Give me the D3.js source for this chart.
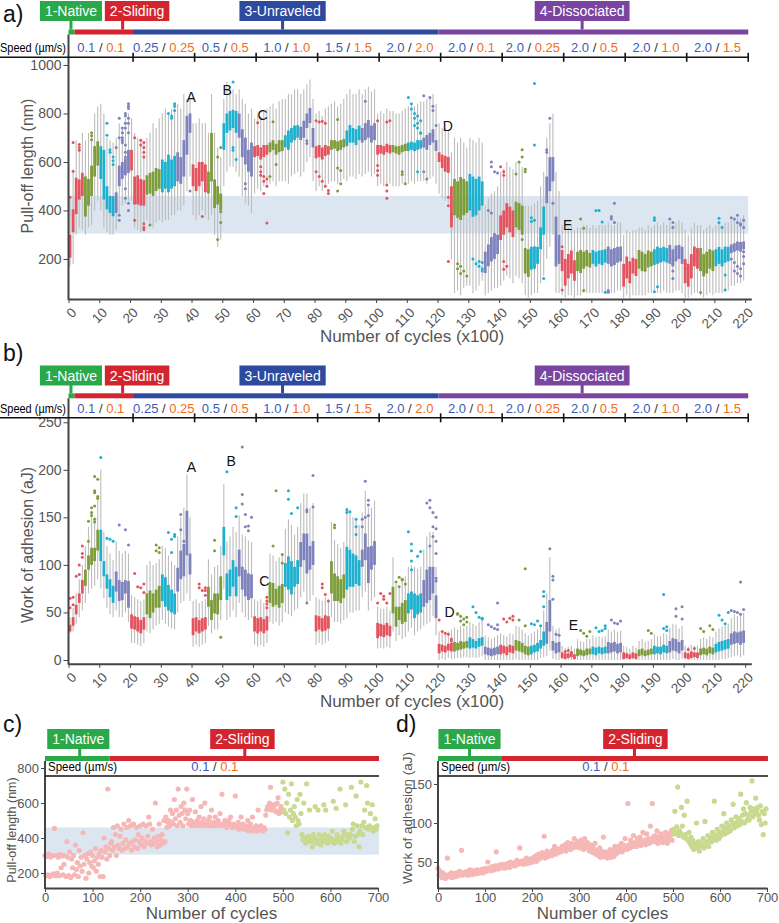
<!DOCTYPE html>
<html lang="en">
<head>
<meta charset="utf-8">
<title>Pull-off length and work of adhesion</title>
<script src="https://cdn.jsdelivr.net/npm/d3@7"></script>
<style>
  body { margin: 0; background: #fff; }
  text { font-family: "Liberation Sans", Arial, Helvetica, sans-serif; }
</style>
</head>
<body>
<div id="chart"></div>
<script>
// ---------- data ----------
const phaseNames = ['1-Native', '2-Sliding', '3-Unraveled', '4-Dissociated'];
const phaseSpans = [[0, 2], [2, 21], [21, 120.3], [120.3, 221]];   // x100 cycles
const speedBreaks = [0, 21, 41, 61, 81, 101, 121, 141, 161, 181, 201, 221];
const speedLabels = [['0.1', '0.1'], ['0.25', '0.25'], ['0.5', '0.5'], ['1.0', '1.0'], ['1.5', '1.5'], ['2.0', '2.0'],
  ['2.0', '0.1'], ['2.0', '0.25'], ['2.0', '0.5'], ['2.0', '1.0'], ['2.0', '1.5']];
const cycleTicks = d3.range(0, 221, 10);
const blueBand = [305, 460];

// a) pull-off length boxes (nm), one per 100 cycles
const aQ1 = [205,310,385,445,460,375,420,460,540,585, 530,445,405,390,376,390,500,530,545,555,
  565,430,425,420,420,465,470,460,480,490, 475,490,475,490,500,520,510,540,630,720,
  500,480,500,520,475,470,520,410,425,400, 650,720,730,740,720,700,620,590,560,540,
  620,625,610,620,630,640,650,630,640,645, 660,650,680,690,700,690,700,740,760,660,
  615,620,610,625,630,650,655,645,650,660, 665,680,680,670,690,680,690,700,680,690,
  630,635,630,640,635,640,635,630,640,645, 645,650,645,650,655,660,650,670,680,645,
  600,575,560,555,330,380,370,361,380,390, 400,374,380,400,420,142,170,190,200,220,
  278,300,330,310,290,330,320,300,140,126, 156,160,180,240,300,430,480,520,169,180,
  150,90,120,140,110,150,142,160,170,165, 180,169,180,175,185,180,169,175,185,190,
  86,120,100,140,130,160,150,148,165,170, 176,180,185,190,185,180,169,190,200,180,
  100,86,120,170,160,150,128,140,160,150, 170,180,169,185,190,224,230,235,230,240];
const aQ3 = [300,405,535,528,555,540,530,585,665,685, 665,650,500,460,459,475,585,600,615,650,
  650,540,545,530,525,545,555,560,575,570, 610,600,630,610,625,640,620,690,790,800,
  590,575,600,600,590,560,720,528,500,470, 760,800,810,815,810,800,735,700,650,680,
  665,670,660,670,670,680,690,675,690,690, 710,730,740,750,752,745,770,800,823,740,
  665,670,660,670,665,690,690,685,690,695, 730,752,740,735,750,740,760,773,750,760,
  670,670,665,675,670,670,665,665,670,675, 680,684,680,690,690,700,711,720,735,690,
  640,630,625,620,500,530,520,538,530,520, 551,540,530,540,520,230,260,290,307,300,
  380,400,430,416,400,436,430,420,245,240, 250,252,250,330,416,540,620,620,375,300,
  237,200,220,235,195,230,237,230,237,225, 237,230,235,237,240,251,240,245,250,251,
  180,210,190,205,200,237,230,220,235,230, 240,251,245,250,245,258,240,255,258,250,
  200,180,220,251,245,245,220,230,240,235, 240,250,240,251,250,260,265,272,270,272];
const aLo = [170,180,300,330,320,300,330,340,400,440, 400,330,310,300,300,320,380,420,430,440,
  440,330,320,310,310,360,340,330,350,360, 350,360,360,380,380,400,400,420,480,540,
  380,360,380,400,380,360,380,300,250,280, 500,560,580,580,560,540,460,430,420,390,
  470,490,480,500,500,510,520,500,520,520, 520,510,540,550,560,540,560,600,620,520,
  480,500,480,500,510,520,520,510,520,530, 520,540,540,530,550,540,550,560,540,550,
  500,510,500,510,510,500,500,500,510,510, 510,520,510,520,520,520,510,530,540,510,
  470,450,440,430,200,60,70,50,80,90, 90,60,70,90,110,50,60,70,80,80,
  90,110,130,120,100,130,120,100,50,40, 50,60,60,100,130,200,250,300,60,60,
  50,40,50,50,40,50,50,60,60,60, 60,60,60,60,70,70,60,60,70,70,
  40,50,40,50,50,50,50,50,60,60, 60,60,60,70,60,60,60,70,70,60,
  40,40,50,60,60,50,40,50,60,50, 60,60,60,70,70,90,90,100,100,110];
const aHi = [460,560,690,660,720,690,720,720,800,830, 840,800,700,690,680,700,760,740,780,800,
  780,720,700,690,680,700,720,760,740,780, 800,820,800,820,840,840,820,880,860,860,
  760,760,780,760,760,720,880,720,660,620, 860,930,900,900,880,900,860,840,800,820,
  780,800,790,810,820,830,840,820,850,860, 860,880,880,900,900,880,900,920,940,860,
  800,810,790,820,830,840,850,830,840,860, 880,900,880,880,900,880,900,910,890,900,
  800,810,800,820,810,810,800,800,810,820, 830,840,830,840,850,850,860,870,880,840,
  760,740,740,730,640,700,680,700,680,660, 700,690,680,700,680,420,450,470,480,500,
  560,570,600,580,570,600,600,580,420,420, 420,430,440,500,560,700,760,800,560,480,
  340,320,330,340,320,330,330,340,340,330, 340,330,340,340,340,350,340,340,350,350,
  300,320,310,320,320,330,330,320,340,330, 340,350,340,350,340,350,340,350,360,350,
  320,300,330,350,340,340,320,330,340,330, 340,350,340,350,350,360,370,370,370,380];
const aOutliers = [[0.5,455],[1.5,680],[1.5,562],[3.5,672],[3.5,660],[3.5,648],
  [7.5,720],[7.5,708],[7.5,692],
  [12.5,760],[12.5,710],[13.5,650],[14.5,620],[14.5,605],[14.5,590],[13.5,640],
  [15.5,660],[16.5,780],[17.5,720],[17.5,700],[17.5,680],[18.5,760],[18.5,800],[19.5,830],[19.5,820],[19.5,840],
  [19.5,780],[19.5,760],[18.5,740],[17.5,690],[16.5,700],[18.5,640],[18.5,620],[17.5,560],[16.5,380],[16.5,360],
  [18.5,450],[19.5,430],[19.5,400],[18.5,490],[18.5,670],[19.5,720],[17.5,740],[18.5,790],
  [21.5,700],[21.5,430],[21.5,360],[23.5,690],[23.5,670],[24.5,680],[24.5,660],[24.5,640],[24.5,620],[24.5,345],[24.5,330],[24.5,322],
  [26.5,340],[32.5,800],[33.5,790],[33.5,780],[34.5,840],[34.5,830],[34.5,812],[39.5,480],[43.5,375],
  [48.5,280],[48.5,620],[49.5,440],[49.5,452],[49.5,395],[49.5,350],[49.5,660],
  [53.5,930],[53.5,660],[53.5,648],[54.5,610],[57.5,510],[57.5,490],
  [61.5,762],[62.5,580],[62.5,560],[63.5,540],[63.5,520],[64.5,500],[63.5,470],[64.5,530],[64.5,348],[62.5,545],
  [66.5,766],[65.5,540],[67.5,590],[77.5,687],[77.5,676],
  [80.5,770],[81.5,765],[82.5,768],[83.5,760],[80.5,560],[81.5,540],[82.5,520],[83.5,500],[84.5,470],[84.5,482],
  [87.5,775],[87.5,575],[88.5,565],[88.5,510],[87.5,480],[96.5,850],
  [100.5,770],[103.5,765],[104.5,770],[100.5,585],[100.5,565],[100.5,545],[103.5,505],[103.5,480],[103.5,450],
  [108.5,560],[108.5,548],[109.5,510],
  [110.5,866],[111.5,840],[111.5,818],[112.5,800],[112.5,780],[113.5,760],[113.5,740],[114.5,720],[114.5,718],[112.5,750],[113.5,790],[114.5,770],[113.5,560],
  [115.5,873],[117.5,866],[118.5,830],[118.5,812],[119.5,750],[115.5,560],[116.5,530],
  [123.5,455],[123.5,420],[124.5,385],[124.5,370],[123.5,190],
  [126.5,180],[126.5,160],[127.5,170],[128.5,150],[129.5,130],[127.5,140],
  [131.5,200],[132.5,180],[133.5,170],[133.5,190],[134.5,160],[134.5,185],[134.5,150],
  [137.5,600],[137.5,580],[138.5,560],[139.5,555],[136.5,400],[137.5,390],
  [140.5,580],[141.5,560],[141.5,545],[141.5,190],[142.5,170],[141.5,158],
  [147.5,620],[148.5,560],[148.5,570],[147.5,280],[147.5,650],[145.5,550],[146.5,600],
  [151.5,924],[151.5,670],[150.5,370],[151.5,360],[150.5,355],[154.5,120],
  [156.5,780],[155.5,650],[155.5,640],[157.5,430],[160.5,250],[160.5,72],
  [166.5,365],[167.5,327],[167.5,70],[171.5,400],[172.5,400],[173.5,352],[174.5,63],
  [176.5,375],[176.5,365],[175.5,70],[175.5,63],[177.5,430],[177.5,350],
  [190.5,370],[190.5,360],[191.5,85],[190.5,65],
  [195.5,365],[196.5,350],[196.5,330],[196.5,200],[196.5,180],[196.5,150],[196.5,120],
  [200.5,180],[200.5,160],[205.5,62],
  [211.5,368],[211.5,350],[212.5,330],[212.5,190],[213.5,134],[213.5,72],
  [215.5,370],[216.5,365],[217.5,380],[217.5,350],[218.5,340],[219.5,360],[219.5,330],[218.5,345],[215.5,200],
  [216.5,185],[217.5,170],[218.5,160],[219.5,180],[216.5,150],[218.5,130],[219.5,210],[219.5,230],[217.5,140]];
const aNotes = [['A', 39.9, 868], ['B', 51.6, 897], ['C', 63.1, 794], ['D', 123.3, 748], ['E', 162.3, 340]];

// b) work of adhesion boxes (aJ)
const bQ1 = [30,36,48,60,70,78,95,100,104,115, 104,88,75,66,60,72,62,63,70,55,
  33,32,30,28,32,48,44,50,55,55, 62,56,52,50,48,72,85,88,110,90,
  26,30,28,30,32,56,42,49,48,63, 110,63,67,77,67,88,74,67,63,65,
  30,28,30,28,31,60,56,58,55,60, 77,74,69,77,80,98,105,91,95,100,
  30,32,30,31,33,70,62,62,60,65, 74,77,77,80,78,98,105,81,95,100,
  23,25,24,26,25,49,35,42,38,40, 49,53,44,48,50,56,60,63,70,44,
  7,9,8,10,9,9,10,11,12,13, 12,13,12,14,15,6,5,4,5,6,
  6,7,5,8,7,10,9,8,6,5, 6,8,9,12,15,17,30,10,7,8,
  2,1,2,3,1,4,5,4,5,6, 6,5,7,6,7,7,8,9,7,8,
  1,2,1,2,1,4,5,4,5,6, 6,7,6,8,7,8,10,9,7,10,
  2,1,2,3,2,5,6,5,7,6, 8,9,10,11,12,16,17,18,16,18];
const bQ3 = [37,45,58,70,84,95,110,118,118,137, 137,104,90,85,78,93,84,82,84,83,
  48,46,45,42,45,70,73,70,74,78, 90,87,79,74,70,97,115,122,157,112,
  44,45,42,44,45,77,63,70,70,88, 140,91,95,105,98,116,98,95,91,90,
  46,44,45,43,46,82,81,75,78,80, 102,109,104,98,105,124,133,133,120,125,
  47,46,44,47,46,104,91,88,85,90, 119,116,112,110,105,116,133,119,120,125,
  39,38,37,39,36,77,56,56,60,63, 70,72,70,68,70,84,95,98,98,68,
  17,16,15,17,18,19,18,20,19,20, 24,22,20,23,24,14,13,12,13,14,
  16,15,14,16,15,21,20,18,15,14, 15,16,18,21,30,40,63,20,18,19,
  8,7,7,8,6,12,11,10,12,12, 14,13,14,13,14,19,18,19,17,18,
  8,7,6,8,7,11,12,10,11,12, 15,14,14,16,15,20,23,22,19,21,
  8,7,9,8,8,12,13,12,14,13, 17,19,20,21,22,28,30,29,30,31];
const bLo = [28,30,38,45,52,60,70,75,78,85, 75,65,55,48,45,52,45,45,50,40,
  18,18,16,15,18,30,28,32,36,38, 42,38,35,33,32,50,60,62,70,62,
  14,16,14,16,18,36,28,32,32,42, 75,42,45,52,45,60,50,45,42,44,
  16,14,16,14,18,40,38,40,36,40, 50,48,46,52,54,66,72,60,62,68,
  16,18,16,18,20,45,40,40,38,42, 44,50,50,52,52,66,72,52,62,66,
  12,13,12,14,13,30,20,26,22,24, 30,34,26,30,32,36,38,40,46,26,
  0,1,0,2,1,1,2,2,3,3, 2,3,2,3,4,0,0,0,0,0,
  0,0,0,0,0,1,0,0,0,0, 0,0,0,2,3,4,10,1,0,0,
  0,0,0,0,0,0,0,0,0,0, 0,0,0,0,0,0,0,0,0,0,
  0,0,0,0,0,0,0,0,0,0, 0,0,0,0,0,0,1,0,0,1,
  0,0,0,0,0,0,0,0,0,0, 0,0,1,1,2,3,4,5,3,5];
const bHi = [45,55,70,85,100,120,140,150,150,170, 200,135,120,112,105,125,115,112,115,112,
  68,66,64,62,64,100,104,100,102,106, 120,118,110,104,100,130,150,160,195,150,
  62,64,60,62,64,106,90,98,100,120, 185,125,130,140,135,152,132,130,126,124,
  64,62,64,60,64,112,110,104,108,110, 138,148,142,132,140,165,175,175,160,165,
  66,64,62,66,64,145,126,122,118,124, 160,155,150,148,142,155,178,160,160,168,
  56,54,54,56,52,108,80,78,84,88, 98,100,98,96,98,116,130,135,135,98,
  30,28,27,30,32,34,32,36,34,36, 40,38,36,40,42,26,24,22,24,26,
  28,26,25,28,27,36,35,32,28,26, 28,30,32,36,52,70,108,36,32,34,
  15,13,14,15,12,22,20,19,22,22, 26,24,25,24,25,32,30,32,30,31,
  15,14,12,15,13,20,22,19,20,22, 27,25,25,28,27,34,38,37,33,36,
  15,14,16,15,15,22,24,22,25,24, 30,33,35,36,38,44,48,46,48,50];
const bOutliers = [[0.5,65],[0.5,55],[1.5,66],[1.5,58],[2.5,88],[3.5,90],[3.5,100],[4.5,108],[4.5,112],[4.5,120],
  [6.5,146],[6.5,125],[7.5,155],[7.5,152],[8.5,193],[8.5,178],[8.5,176],[9.5,190],[9.5,172],[9.5,170],[7.5,160],[8.5,162],[8.5,148],[8.5,145],
  [10.5,213],[12.5,128],[13.5,127],[14.5,125],[16.5,142],[18.5,137],[19.5,121],
  [21.5,91],[22.5,77],[24.5,80],[24.5,71],[23.5,76],[28.5,121],[29.5,113],[29.5,118],[28.5,115],
  [32.5,134],[33.5,113],[34.5,132],[34.5,130],[33.5,127],[36.5,153],[36.5,137],[37.5,125],
  [42.5,80],[42.5,76],[43.5,73],[44.5,68],[44.5,76],[44.5,73],[47.5,126],[47.5,115],[49.5,24],
  [51.5,198],[54.5,160],[54.5,151],[56.5,224],[56.5,174],[56.5,164],[57.5,153],[58.5,141],[58.5,136],[59.5,150],[57.5,140],
  [64.5,66],[64.5,62],[64.5,59],[64.5,55],[66.5,120],[67.5,178],[69.5,111],[69.5,102],
  [71.5,178],[71.5,169],[72.5,154],[74.5,160],[77.5,158],[77.5,156],[79.5,161],[79.5,194],[77.5,60],
  [82.5,80],[82.5,76],[83.5,69],[84.5,62],[86.5,142],[86.5,139],
  [90.5,158],[90.5,155],[91.5,156],[93.5,148],[93.5,140],[93.5,132],
  [96.5,188],[97.5,168],[97.5,163],[97.5,152],[96.5,150],[95.5,148],[95.5,140],
  [101.5,70],[102.5,64],[103.5,60],[104.5,70],[102.5,67],[100.5,60],
  [106.5,82],[107.5,77],[108.5,84],[109.5,80],[107.5,87],[108.5,85],
  [110.5,135],[111.5,122],[111.5,115],[113.5,109],[114.5,114],[111.5,104],[111.5,95],
  [116.5,165],[117.5,168],[117.5,160],[118.5,155],[118.5,140],[119.5,150],[119.5,138],[119.5,125],[118.5,130],[119.5,112],[117.5,120],[119.5,86],[119.5,83],
  [120.5,42],[121.5,30],[122.5,28],[123.5,27],[124.5,22],[124.5,20],
  [126.5,49],[127.5,46],[128.5,43],[129.5,40],[129.5,45],[128.5,37],[127.5,41],[126.5,48],
  [131.5,56],[132.5,50],[133.5,45],[134.5,44],[134.5,43],
  [136.5,37],[137.5,35],[138.5,33],[139.5,32],[139.5,37],[139.5,60],
  [141.5,43],[142.5,40],[143.5,44],[144.5,42],[144.5,46],[146.5,42],[148.5,96],[148.5,36],
  [150.5,38],[151.5,37],[152.5,41],[153.5,36],[154.5,72],[154.5,67],[154.5,56],
  [156.5,117],[157.5,88],[157.5,84],[157.5,64],[158.5,27],[159.5,26],
  [161.5,9],[162.5,10],[163.5,8],[166.5,31],[167.5,28],[168.5,25],[169.5,30],
  [171.5,34],[172.5,30],[173.5,31],[174.5,36],[174.5,33],[176.5,42],[177.5,39],[178.5,38],[179.5,41],
  [188.5,31],[189.5,28],[193.5,69],[193.5,33],[194.5,31],[194.5,35],
  [197.5,54],[197.5,46],[199.5,43],[199.5,56],[201.5,11],[203.5,12],
  [205.5,33],[206.5,30],[208.5,36],[209.5,32],[211.5,47],[212.5,42],[213.5,38],[214.5,50],
  [218.5,82],[215.5,52],[216.5,51],[217.5,50],[218.5,48],[219.5,53]];
const bNotes = [['A', 40, 203], ['B', 52.9, 209], ['C', 63.7, 83], ['D', 123.9, 50.5], ['E', 164.2, 37]];

// c) pull-off length (nm), one value every 2 cycles
const cPull = [300,185,295,190,310,180,292,188,300,195, 455,185,300,200,290,185,305,230,298,190,
  250,300,180,380,290,185,320,175,280,230, 300,190,360,220,260,180,330,240,290,210,
  430,250,300,170,280,310,200,260,320,240, 300,230,270,340,210,290,250,310,180,330,
  290,180,400,320,350,280,680,340,300,370, 380,330,460,350,420,300,470,360,340,410,
  450,330,370,480,340,390,460,350,500,370, 470,330,380,480,350,390,460,340,420,380,
  470,360,400,480,350,380,470,370,410,520, 480,380,360,450,370,400,600,380,350,410,
  480,360,390,420,370,500,380,520,460,490, 500,470,560,490,540,480,620,510,560,470,
  680,530,490,580,540,470,600,560,510,680, 540,480,560,500,470,620,490,480,550,470,
  500,480,520,470,580,490,470,510,600,480, 480,470,500,520,470,560,480,490,470,520,
  470,490,500,480,540,470,650,480,470,500, 480,460,470,500,480,520,470,460,480,470,
  640,470,460,490,450,470,520,460,480,450, 460,470,450,500,440,460,480,450,520,440,
  460,450,470,440,560,450,460,470,450,440, 460,450,530,560,580,570,600,690,560,590,
  580,560,590,550,600,630,540,560,580,550, 720,560,680,540,600,430,650,520,560,710,
  500,540,580,520,470,620,500,480,650,540, 420,390,600,400,370,710,380,410,560,390,
  380,350,420,400,580,370,390,560,420,380, 360,400,380,590,420,560,390,370,410,380,
  380,400,440,610,370,390,570,420,400,380, 680,370,390,410,440,420,590,380,420,400,
  400,420,690,450,480,380,410,640,470,420, 350,440,720,470,420,490,560,460,700,600,
  450,470,540,460,590,440,460,510,450,470];
// d) work of adhesion (aJ), one value every 2 cycles
const dWork = [42,33,38,35,30,36,32,34,29,33, 55,31,34,32,36,30,33,35,31,34,
  36,32,34,38,35,65,33,36,34,37, 35,38,33,36,40,35,37,34,39,36,
  38,35,40,37,36,39,38,41,36,40, 39,42,38,50,41,40,43,39,44,42,
  40,45,63,43,41,46,42,44,47,43, 45,42,47,44,48,46,43,50,45,47,
  46,49,45,48,52,47,50,68,48,51, 49,47,52,50,55,48,53,51,49,54,
  52,50,56,53,58,51,55,60,54,57, 56,62,58,83,55,60,64,57,62,59,
  61,58,65,63,70,60,64,67,62,66, 65,63,70,66,68,72,64,69,75,67,
  70,66,74,68,72,80,69,73,76,70, 72,68,78,70,74,66,80,71,69,75,
  68,64,72,66,70,62,67,74,60,65, 62,58,68,56,64,60,82,57,63,59,
  55,62,58,66,56,60,64,57,70,60, 66,62,70,64,68,74,63,72,67,80,
  70,66,125,72,68,78,74,70,84,72, 75,70,80,73,77,82,71,76,88,74,
  78,72,86,76,80,74,96,78,125,82, 76,84,79,90,74,82,78,86,80,75,
  82,77,88,80,74,85,79,84,90,78, 92,86,115,88,95,146,84,90,87,120,
  96,82,110,85,80,128,78,88,74,82, 70,78,66,74,72,100,68,76,64,72,
  74,70,80,68,102,76,72,84,70,78, 82,76,88,80,128,84,78,92,86,80,
  88,84,96,90,112,86,94,100,88,92, 96,90,104,98,124,94,100,108,96,102,
  106,98,137,102,110,118,100,112,126,104, 110,104,120,114,154,108,118,112,132,116,
  120,110,104,122,98,115,85,112,100,118];
const cdPhaseNames = ['1-Native', '2-Sliding'];
const cdPhaseSpans = [[0, 136], [136, 702]];
const cdTicks = d3.range(0, 701, 100);

// ---------- style ----------
const boxColors = ['#e4535e', '#7d9c3a', '#1eb1cf', '#7e82bd'];
const phaseColors = ['#2aa84a', '#d4252e', '#2d4a9f', '#7a45a0'];
const speedBlue = '#3b5cb8', speedOrange = '#f26c22';
const bandColor = '#dce6f1';
const axisColor = '#444', tickText = '#555';

const svg = d3.select('#chart').append('svg').attr('width', 779).attr('height', 923);

function letter(txt, x, y) {
  svg.append('text').attr('x', x).attr('y', y).attr('font-size', 23).attr('fill', '#111').text(txt);
}

// phase bar with labelled boxes, plus the speed row
function header(o) {
  const g = svg.append('g');
  o.spans.forEach((s, i) => {
    g.append('rect').attr('x', o.x(s[0])).attr('y', o.barY)
      .attr('width', o.x(s[1]) - o.x(s[0])).attr('height', 5).attr('fill', phaseColors[i]);
  });
  o.names.forEach((name, i) => {
    const cx = o.x(o.boxAt[i]), sx = o.x(o.stemAt[i]);
    const t = g.append('text').attr('x', cx).attr('y', o.boxTop + 15).attr('text-anchor', 'middle')
      .attr('font-size', 14).attr('fill', '#fff').text(name);
    const w = t.node().getComputedTextLength() + 10;
    g.insert('rect', 'text').attr('x', cx - w / 2).attr('y', o.boxTop).attr('width', w).attr('height', 20)
      .attr('fill', phaseColors[i]);
    g.append('rect').attr('x', sx - 1.5).attr('y', o.boxTop + 19).attr('width', 3)
      .attr('height', o.barY - o.boxTop - 19).attr('fill', phaseColors[i]);
  });
  g.append('text').attr('x', o.speedX).attr('y', o.lineY - 5).attr('font-size', 12)
    .attr('textLength', o.speedW).attr('lengthAdjust', 'spacingAndGlyphs').attr('fill', '#000')
    .text('Speed (µm/s)');
  g.append('line').attr('x1', o.lineX0).attr('x2', o.lineX1).attr('y1', o.lineY).attr('y2', o.lineY)
    .attr('stroke', '#111').attr('stroke-width', 1.6);
  (o.ticks || []).forEach(u => {
    g.append('line').attr('x1', o.x(u)).attr('x2', o.x(u)).attr('y1', o.lineY - 4.5).attr('y2', o.lineY + 4.5)
      .attr('stroke', '#111').attr('stroke-width', 1.6);
  });
  o.labels.forEach(l => {
    const t = g.append('text').attr('x', o.x(l.at)).attr('y', o.lineY - 5).attr('text-anchor', 'middle')
      .attr('font-size', 13);
    t.append('tspan').attr('fill', speedBlue).text(l.pair[0]);
    t.append('tspan').attr('fill', '#333').text(' / ');
    t.append('tspan').attr('fill', speedOrange).text(l.pair[1]);
  });
}

const xBox = d3.scaleLinear().domain([0, 222]).range([68.5, 751.3]);

function boxPanel(o) {
  const x = xBox;
  const y = d3.scaleLinear().domain(o.yDomain).range(o.yRange);
  const g = svg.append('g');
  letter(o.letter, 3, o.letterY);
  header({
    x, spans: phaseSpans, names: phaseNames, boxAt: [0.8, 22.3, 69.6, 167], stemAt: [0.8, 17.6, 69.6, 167],
    boxTop: o.boxTop, barY: o.barY, lineY: o.lineY, speedX: 0, speedW: 66, lineX0: 0, lineX1: x(221),
    ticks: speedBreaks.slice(1),
    labels: speedLabels.map((p, i) => ({ pair: p, at: (speedBreaks[i] + speedBreaks[i + 1]) / 2 }))
  });
  if (o.band) {
    g.append('rect').attr('x', x(0)).attr('width', x(221) - x(0))
      .attr('y', y(o.band[1])).attr('height', y(o.band[0]) - y(o.band[1])).attr('fill', bandColor);
  }
  const rows = o.q1.map((q, i) => ({ i, q1: q, q3: o.q3[i], lo: o.lo[i], hi: o.hi[i] }));
  g.append('g').selectAll('line').data(rows).join('line')
    .attr('x1', d => x(d.i + 0.5)).attr('x2', d => x(d.i + 0.5))
    .attr('y1', d => y(d.lo)).attr('y2', d => y(d.hi))
    .attr('stroke', '#bcbcbc').attr('stroke-width', 1.1);
  g.append('g').selectAll('rect').data(rows).join('rect')
    .attr('x', d => x(d.i + 0.5) - 1.4).attr('width', 2.8)
    .attr('y', d => y(d.q3)).attr('height', d => y(d.q1) - y(d.q3))
    .attr('fill', d => boxColors[Math.floor(d.i / 5) % 4]);
  g.append('g').selectAll('circle').data(o.out).join('circle')
    .attr('cx', d => x(d[0])).attr('cy', d => y(d[1])).attr('r', 1.5)
    .attr('fill', d => boxColors[Math.floor(d[0] / 5) % 4]);
  g.append('g').selectAll('text').data(o.notes).join('text')
    .attr('x', d => x(d[1])).attr('y', d => y(d[2])).attr('dy', '0.35em').attr('text-anchor', 'middle')
    .attr('font-size', 14).attr('fill', '#111').text(d => d[0]);

  // y axis
  const ya = g.append('g').attr('transform', `translate(${x(0)},0)`)
    .call(d3.axisLeft(y).tickValues(o.yTicks).tickSize(5).tickPadding(2).tickFormat(d3.format('d')));
  ya.select('.domain').remove();
  ya.selectAll('line').attr('stroke', axisColor);
  ya.selectAll('text').attr('font-size', 14).attr('fill', tickText);
  g.append('line').attr('x1', x(0)).attr('x2', x(0)).attr('y1', o.barY + 5).attr('y2', o.yRange[0] + 1)
    .attr('stroke', axisColor).attr('stroke-width', 2);
  // x axis
  const xa = g.append('g').attr('transform', `translate(0,${o.yRange[0]})`)
    .call(d3.axisBottom(x).tickValues(cycleTicks).tickSize(4).tickSizeOuter(0).tickFormat(d3.format('d')));
  xa.select('.domain').attr('stroke', axisColor).attr('stroke-width', 2);
  xa.selectAll('line').attr('stroke', axisColor);
  xa.selectAll('text').attr('font-size', 13.5).attr('fill', tickText)
    .attr('x', 0).attr('y', 0).attr('dy', '0.35em').attr('text-anchor', 'end')
    .attr('transform', 'translate(5,11) rotate(-45)');
  g.append('text').attr('x', 412).attr('y', o.yRange[0] + 43).attr('text-anchor', 'middle')
    .attr('font-size', 17).attr('fill', tickText).text('Number of cycles (x100)');
  g.append('text').attr('transform', `translate(33,${o.titleY}) rotate(-90)`).attr('text-anchor', 'middle')
    .attr('font-size', 16).attr('fill', tickText).text(o.title);
}

function scatterPanel(o) {
  const x = d3.scaleLinear().domain([0, 700]).range(o.xRange);
  const y = d3.scaleLinear().domain(o.yDomain).range(o.yRange);
  const g = svg.append('g');
  const bottom = 888;
  letter(o.letter, o.xRange[0] - 42, 732);
  header({
    x, spans: cdPhaseSpans, names: cdPhaseNames, boxAt: o.boxAt, stemAt: o.stemAt,
    boxTop: 729, barY: 756, lineY: 776, speedX: x(0) + 3, speedW: 69, lineX0: x(0), lineX1: x(702),
    ticks: [], labels: [{ pair: ['0.1', '0.1'], at: 357 }]
  });
  if (o.band) {
    g.append('rect').attr('x', x(0)).attr('width', x(702) - x(0))
      .attr('y', y(o.band[1])).attr('height', y(o.band[0]) - y(o.band[1])).attr('fill', bandColor);
  }
  g.append('g').selectAll('circle').data(o.vals.map((v, i) => ({ c: i * 2, v }))).join('circle')
    .attr('cx', d => x(d.c)).attr('cy', d => y(d.v)).attr('r', 2.6)
    .attr('fill', d => d.c < 500 ? '#f6b7b7' : '#c9d98f');
  const ya = g.append('g').attr('transform', `translate(${x(0)},0)`)
    .call(d3.axisLeft(y).tickValues(o.yTicks).tickSize(4).tickPadding(2));
  ya.select('.domain').remove();
  ya.selectAll('line').attr('stroke', axisColor);
  ya.selectAll('text').attr('font-size', 13).attr('fill', tickText);
  g.append('line').attr('x1', x(0)).attr('x2', x(0)).attr('y1', 761).attr('y2', bottom + 1)
    .attr('stroke', axisColor).attr('stroke-width', 2);
  const xa = g.append('g').attr('transform', `translate(0,${bottom})`)
    .call(d3.axisBottom(x).tickValues(cdTicks).tickSize(4).tickSizeOuter(0).tickPadding(1));
  xa.select('.domain').attr('stroke', axisColor).attr('stroke-width', 2);
  xa.selectAll('line').attr('stroke', axisColor);
  xa.selectAll('text').attr('font-size', 13).attr('fill', tickText);
  g.append('text').attr('x', (o.xRange[0] + o.xRange[1]) / 2).attr('y', 919).attr('text-anchor', 'middle')
    .attr('font-size', 17).attr('fill', tickText).text('Number of cycles');
  g.append('text').attr('transform', `translate(${o.titleX},${o.titleY}) rotate(-90)`).attr('text-anchor', 'middle')
    .attr('font-size', o.titleSize).attr('fill', tickText).text(o.title);
}

boxPanel({
  letter: 'a)', letterY: 22, boxTop: 1, barY: 29.5, lineY: 57.3,
  yDomain: [35, 1032], yRange: [299, 57.2], yTicks: [200, 400, 600, 800, 1000], band: blueBand,
  q1: aQ1, q3: aQ3, lo: aLo, hi: aHi, out: aOutliers, notes: aNotes,
  title: 'Pull-off length (nm)', titleY: 166
});
boxPanel({
  letter: 'b)', letterY: 361, boxTop: 365.5, barY: 393.3, lineY: 417.8,
  yDomain: [-4, 254.5], yRange: [663.8, 418], yTicks: [0, 50, 100, 150, 200, 250], band: null,
  q1: bQ1, q3: bQ3, lo: bLo, hi: bHi, out: bOutliers, notes: bNotes,
  title: 'Work of adhesion (aJ)', titleY: 545
});
scatterPanel({
  letter: 'c)', xRange: [45, 378], yDomain: [200, 800], yRange: [873, 768], yTicks: [200, 400, 600, 800],
  band: blueBand, vals: cPull, boxAt: [70, 415], stemAt: [73, 420],
  title: 'Pull-off length (nm)', titleX: 16, titleY: 830, titleSize: 12.5
});
scatterPanel({
  letter: 'd)', xRange: [438, 767], yDomain: [50, 150], yRange: [862, 784], yTicks: [50, 100, 150],
  band: null, vals: dWork, boxAt: [67, 420], stemAt: [67, 418],
  title: 'Work of adhesion (aJ)', titleX: 412, titleY: 818, titleSize: 13.5
});
</script>
</body>
</html>
